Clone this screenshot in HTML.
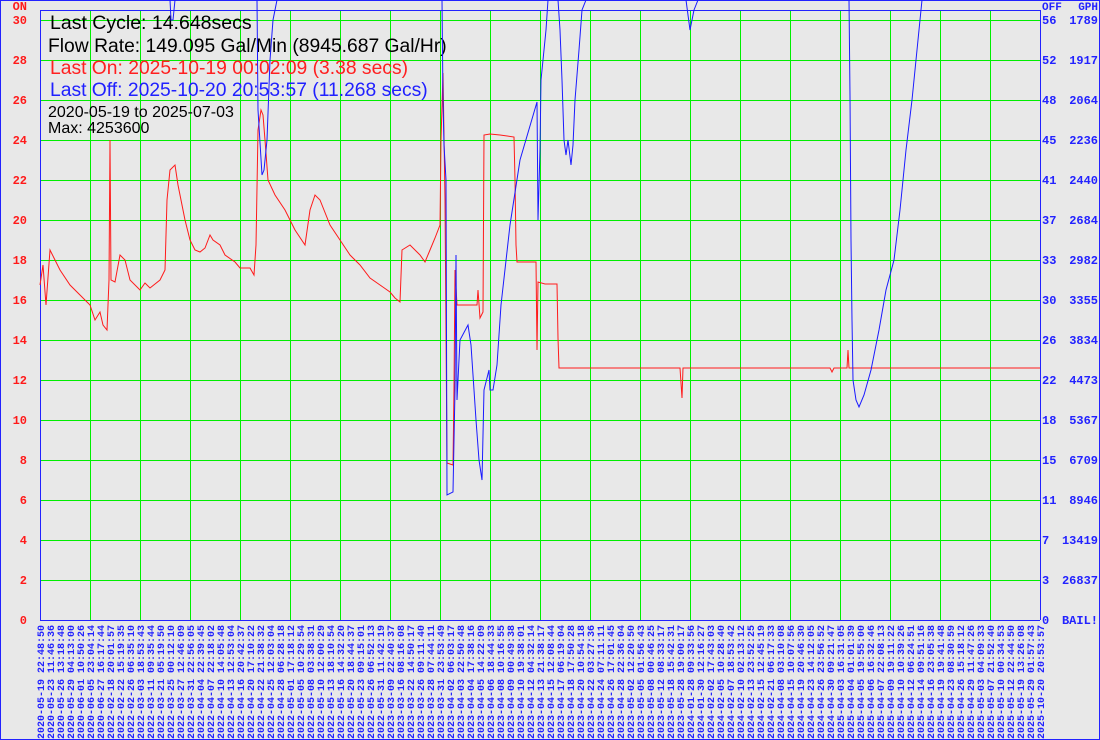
<!DOCTYPE html>
<html><head><meta charset="utf-8"><style>
html,body{margin:0;padding:0;background:#e8e8e8;}
svg{display:block;}
.ax{font-family:"Liberation Mono","DejaVu Sans Mono",monospace;font-weight:bold;font-size:12px;}
.xl{font-family:"Liberation Mono","DejaVu Sans Mono",monospace;font-size:10px;font-weight:bold;fill:#2222ff;}
.info{font-family:"Liberation Sans",sans-serif;}
</style></head><body>
<svg width="1100" height="740" xmlns="http://www.w3.org/2000/svg">
<rect x="0" y="0" width="1100" height="740" fill="#e8e8e8"/>
<rect x="0.5" y="0.5" width="1099" height="739" fill="none" stroke="#2222ff" stroke-width="1"/>
<g stroke="#00ee00" stroke-width="1" shape-rendering="crispEdges">
<path d="M40 20.5H1040M40 60.5H1040M40 100.5H1040M40 140.5H1040M40 180.5H1040M40 220.5H1040M40 260.5H1040M40 300.5H1040M40 340.5H1040M40 380.5H1040M40 420.5H1040M40 460.5H1040M40 500.5H1040M40 540.5H1040M40 580.5H1040"/>
<path d="M90.5 10V620M140.5 10V620M190.5 10V620M240.5 10V620M290.5 10V620M340.5 10V620M390.5 10V620M440.5 10V620M490.5 10V620M540.5 10V620M590.5 10V620M640.5 10V620M690.5 10V620M740.5 10V620M790.5 10V620M840.5 10V620M890.5 10V620M940.5 10V620M990.5 10V620"/>
</g>
<g stroke="#2222ff" stroke-width="1" fill="none" shape-rendering="crispEdges">
<path d="M40 10.5H1040M40.5 10V620.5H1040M1040.5 10V620"/>
</g>
<g class="info">
<text x="50" y="29" font-size="19.5" fill="#000">Last Cycle: 14.648secs</text>
<text x="48" y="52" font-size="19.3" fill="#000">Flow Rate: 149.095 Gal/Min (8945.687 Gal/Hr)</text>
<text x="50" y="74" font-size="19.3" fill="#ff2020">Last On: 2025-10-19 00:02:09 (3.38 secs)</text>
<text x="50" y="96" font-size="19.3" fill="#2020ff">Last Off: 2025-10-20 20:53:57 (11.268 secs)</text>
<text x="48" y="117" font-size="16" fill="#000">2020-05-19 to 2025-07-03</text>
<text x="48" y="133" font-size="16" fill="#000">Max: 4253600</text>
</g>
<polyline fill="none" stroke="#ff1a1a" stroke-width="1" points="40,285 43,265 46,305 50,250 55,260 60,270 70,285 80,295 90,305 95,320 100,312 103,325 107,330 109,280 110,140 111,280 115,282 120,255 125,260 130,280 140,290 145,283 150,288 160,280 165,270 167,200 170,170 175,165 178,185 185,220 190,240 195,250 200,252 205,248 210,235 213,240 220,245 225,255 235,262 240,268 250,268 254,275 256,245 258,130 261,110 263,115 265,140 268,180 275,195 285,210 295,230 305,245 310,210 315,195 320,200 330,225 340,240 350,255 360,265 370,278 380,285 390,292 395,298 400,302 402,250 410,245 420,255 425,262 430,250 435,238 440,225 441,140 443,73 445,200 447,463 453,465 454,388 455,270 457,305 465,305 477,305 478,290 480,318 483,312 484,135 490,134 500,135 514,137 515,180 516,245 517,262 530,262 536,262 537,350 538,282 545,284 557,284 558,338 559,368 680,368 682,398 683,368 830,368 832,372 834,368 847,368 848,350 849,368 1040,368"/>
<polyline fill="none" stroke="#1a1aff" stroke-width="1" points="170,0 171,20 173,20 175,0"/>
<polyline fill="none" stroke="#1a1aff" stroke-width="1" points="257,0 258,110 262,175 264,170 267,140 270,60 273,20 277,0"/>
<polyline fill="none" stroke="#1a1aff" stroke-width="1" points="442,0 443,100 444,145 446,180 447,495 453,492 454,440 455,390 456,255 457,400 460,340 468,325 471,345 473,375 476,420 479,460 482,480 484,390 489,370 490,390 493,390 497,365 501,305 510,225 520,160 537,102 538,220 540,150 541,80 546,30 548,0"/>
<polyline fill="none" stroke="#1a1aff" stroke-width="1" points="558,0 560,30 562,80 564,140 566,155 568,140 571,165 573,145 575,100 579,50 582,10 586,0"/>
<polyline fill="none" stroke="#1a1aff" stroke-width="1" points="686,0 690,30 694,10 698,0"/>
<polyline fill="none" stroke="#1a1aff" stroke-width="1" points="849,0 850,96 851,240 852,320 853,380 856,400 859,407 864,395 871,370 879,330 886,290 894,260 900,210 906,150 912,100 918,40 922,0"/>
<g class="ax" fill="#ff1a1a" text-anchor="end">
<text x="27" y="10">ON</text>
<text x="27" y="24">30</text><text x="27" y="64">28</text><text x="27" y="104">26</text><text x="27" y="144">24</text><text x="27" y="184">22</text><text x="27" y="224">20</text><text x="27" y="264">18</text><text x="27" y="304">16</text><text x="27" y="344">14</text><text x="27" y="384">12</text><text x="27" y="424">10</text><text x="27" y="464">8</text><text x="27" y="504">6</text><text x="27" y="544">4</text><text x="27" y="584">2</text><text x="27" y="624">0</text>
</g>
<g class="ax" fill="#2222ff">
<text x="1042" y="10" font-size="11">OFF</text><text x="1098" y="10" text-anchor="end" font-size="11">GPH</text>
<text x="1042" y="24">56</text><text x="1042" y="64">52</text><text x="1042" y="104">48</text><text x="1042" y="144">45</text><text x="1042" y="184">41</text><text x="1042" y="224">37</text><text x="1042" y="264">33</text><text x="1042" y="304">30</text><text x="1042" y="344">26</text><text x="1042" y="384">22</text><text x="1042" y="424">18</text><text x="1042" y="464">15</text><text x="1042" y="504">11</text><text x="1042" y="544">7</text><text x="1042" y="584">3</text><text x="1042" y="624">0</text>
</g>
<g class="ax" fill="#2222ff" text-anchor="end">
<text x="1098" y="24">1789</text><text x="1098" y="64">1917</text><text x="1098" y="104">2064</text><text x="1098" y="144">2236</text><text x="1098" y="184">2440</text><text x="1098" y="224">2684</text><text x="1098" y="264">2982</text><text x="1098" y="304">3355</text><text x="1098" y="344">3834</text><text x="1098" y="384">4473</text><text x="1098" y="424">5367</text><text x="1098" y="464">6709</text><text x="1098" y="504">8946</text><text x="1098" y="544">13419</text><text x="1098" y="584">26837</text><text x="1098" y="624">BAIL!</text>
</g>
<g class="xl" text-anchor="end">
<text transform="translate(44,625) rotate(-90)">2020-05-19 22:48:50</text>
<text transform="translate(54,625) rotate(-90)">2020-05-23 11:46:36</text>
<text transform="translate(64,625) rotate(-90)">2020-05-26 13:18:48</text>
<text transform="translate(74,625) rotate(-90)">2020-05-29 04:13:00</text>
<text transform="translate(84,625) rotate(-90)">2020-06-01 10:50:26</text>
<text transform="translate(94,625) rotate(-90)">2020-06-05 23:04:14</text>
<text transform="translate(104,625) rotate(-90)">2020-06-27 16:17:44</text>
<text transform="translate(114,625) rotate(-90)">2022-02-18 20:01:57</text>
<text transform="translate(124,625) rotate(-90)">2022-02-22 15:19:35</text>
<text transform="translate(134,625) rotate(-90)">2022-02-26 06:35:10</text>
<text transform="translate(144,625) rotate(-90)">2022-03-03 18:53:43</text>
<text transform="translate(154,625) rotate(-90)">2022-03-11 09:35:44</text>
<text transform="translate(164,625) rotate(-90)">2022-03-21 05:19:50</text>
<text transform="translate(174,625) rotate(-90)">2022-03-25 00:12:10</text>
<text transform="translate(184,625) rotate(-90)">2022-03-27 12:46:09</text>
<text transform="translate(194,625) rotate(-90)">2022-03-31 22:56:05</text>
<text transform="translate(204,625) rotate(-90)">2022-04-04 22:39:45</text>
<text transform="translate(214,625) rotate(-90)">2022-04-07 22:18:02</text>
<text transform="translate(224,625) rotate(-90)">2022-04-10 14:05:48</text>
<text transform="translate(234,625) rotate(-90)">2022-04-13 12:53:04</text>
<text transform="translate(244,625) rotate(-90)">2022-04-16 20:42:37</text>
<text transform="translate(254,625) rotate(-90)">2022-04-20 17:10:22</text>
<text transform="translate(264,625) rotate(-90)">2022-04-22 21:38:32</text>
<text transform="translate(274,625) rotate(-90)">2022-04-25 12:03:04</text>
<text transform="translate(284,625) rotate(-90)">2022-04-28 06:28:18</text>
<text transform="translate(294,625) rotate(-90)">2022-05-01 17:18:12</text>
<text transform="translate(304,625) rotate(-90)">2022-05-05 10:29:54</text>
<text transform="translate(314,625) rotate(-90)">2022-05-08 03:38:31</text>
<text transform="translate(324,625) rotate(-90)">2022-05-10 12:00:29</text>
<text transform="translate(334,625) rotate(-90)">2022-05-13 18:10:54</text>
<text transform="translate(344,625) rotate(-90)">2022-05-16 14:32:20</text>
<text transform="translate(354,625) rotate(-90)">2022-05-20 18:44:37</text>
<text transform="translate(364,625) rotate(-90)">2022-05-23 09:15:01</text>
<text transform="translate(374,625) rotate(-90)">2022-05-26 06:52:13</text>
<text transform="translate(384,625) rotate(-90)">2022-05-31 11:42:19</text>
<text transform="translate(394,625) rotate(-90)">2023-03-09 22:40:37</text>
<text transform="translate(404,625) rotate(-90)">2023-03-16 08:16:08</text>
<text transform="translate(414,625) rotate(-90)">2023-03-22 14:50:17</text>
<text transform="translate(424,625) rotate(-90)">2023-03-26 09:11:40</text>
<text transform="translate(434,625) rotate(-90)">2023-03-28 07:44:11</text>
<text transform="translate(444,625) rotate(-90)">2023-03-31 23:53:49</text>
<text transform="translate(454,625) rotate(-90)">2023-04-02 06:03:17</text>
<text transform="translate(464,625) rotate(-90)">2023-04-03 22:50:48</text>
<text transform="translate(474,625) rotate(-90)">2023-04-04 17:38:16</text>
<text transform="translate(484,625) rotate(-90)">2023-04-05 14:22:09</text>
<text transform="translate(494,625) rotate(-90)">2023-04-06 18:44:33</text>
<text transform="translate(504,625) rotate(-90)">2023-04-08 10:16:55</text>
<text transform="translate(514,625) rotate(-90)">2023-04-09 00:49:38</text>
<text transform="translate(524,625) rotate(-90)">2023-04-10 19:38:01</text>
<text transform="translate(534,625) rotate(-90)">2023-04-12 04:32:14</text>
<text transform="translate(544,625) rotate(-90)">2023-04-13 21:38:17</text>
<text transform="translate(554,625) rotate(-90)">2023-04-15 12:08:44</text>
<text transform="translate(564,625) rotate(-90)">2023-04-17 06:19:04</text>
<text transform="translate(574,625) rotate(-90)">2023-04-18 17:50:28</text>
<text transform="translate(584,625) rotate(-90)">2023-04-20 10:54:18</text>
<text transform="translate(594,625) rotate(-90)">2023-04-22 03:27:36</text>
<text transform="translate(604,625) rotate(-90)">2023-04-24 07:11:11</text>
<text transform="translate(614,625) rotate(-90)">2023-04-26 17:01:45</text>
<text transform="translate(624,625) rotate(-90)">2023-04-28 22:36:04</text>
<text transform="translate(634,625) rotate(-90)">2023-05-02 12:20:50</text>
<text transform="translate(644,625) rotate(-90)">2023-05-05 01:56:43</text>
<text transform="translate(654,625) rotate(-90)">2023-05-08 00:46:25</text>
<text transform="translate(664,625) rotate(-90)">2023-05-12 08:33:17</text>
<text transform="translate(674,625) rotate(-90)">2023-05-18 15:42:31</text>
<text transform="translate(684,625) rotate(-90)">2023-05-28 19:00:17</text>
<text transform="translate(694,625) rotate(-90)">2024-01-28 09:33:56</text>
<text transform="translate(704,625) rotate(-90)">2024-01-30 12:16:27</text>
<text transform="translate(714,625) rotate(-90)">2024-02-02 17:43:03</text>
<text transform="translate(724,625) rotate(-90)">2024-02-05 10:28:40</text>
<text transform="translate(734,625) rotate(-90)">2024-02-07 18:53:42</text>
<text transform="translate(744,625) rotate(-90)">2024-02-10 02:13:12</text>
<text transform="translate(754,625) rotate(-90)">2024-02-13 23:52:25</text>
<text transform="translate(764,625) rotate(-90)">2024-02-15 12:45:19</text>
<text transform="translate(774,625) rotate(-90)">2024-02-21 06:17:33</text>
<text transform="translate(784,625) rotate(-90)">2024-04-08 03:10:08</text>
<text transform="translate(794,625) rotate(-90)">2024-04-15 10:07:56</text>
<text transform="translate(804,625) rotate(-90)">2024-04-19 20:46:30</text>
<text transform="translate(814,625) rotate(-90)">2024-04-23 14:12:05</text>
<text transform="translate(824,625) rotate(-90)">2024-04-26 23:56:52</text>
<text transform="translate(834,625) rotate(-90)">2024-04-30 09:21:47</text>
<text transform="translate(844,625) rotate(-90)">2025-04-03 16:31:05</text>
<text transform="translate(854,625) rotate(-90)">2025-04-04 01:01:39</text>
<text transform="translate(864,625) rotate(-90)">2025-04-05 19:55:00</text>
<text transform="translate(874,625) rotate(-90)">2025-04-06 16:32:46</text>
<text transform="translate(884,625) rotate(-90)">2025-04-07 22:08:13</text>
<text transform="translate(894,625) rotate(-90)">2025-04-09 19:11:22</text>
<text transform="translate(904,625) rotate(-90)">2025-04-10 10:39:26</text>
<text transform="translate(914,625) rotate(-90)">2025-04-12 06:24:51</text>
<text transform="translate(924,625) rotate(-90)">2025-04-14 09:51:16</text>
<text transform="translate(934,625) rotate(-90)">2025-04-16 23:05:38</text>
<text transform="translate(944,625) rotate(-90)">2025-04-19 19:41:48</text>
<text transform="translate(954,625) rotate(-90)">2025-04-23 08:30:59</text>
<text transform="translate(964,625) rotate(-90)">2025-04-26 15:18:12</text>
<text transform="translate(974,625) rotate(-90)">2025-04-29 11:47:26</text>
<text transform="translate(984,625) rotate(-90)">2025-05-03 04:09:33</text>
<text transform="translate(994,625) rotate(-90)">2025-05-07 21:52:40</text>
<text transform="translate(1004,625) rotate(-90)">2025-05-10 00:34:53</text>
<text transform="translate(1014,625) rotate(-90)">2025-05-12 22:44:50</text>
<text transform="translate(1024,625) rotate(-90)">2025-05-19 13:26:08</text>
<text transform="translate(1034,625) rotate(-90)">2025-05-29 01:57:43</text>
<text transform="translate(1044,625) rotate(-90)">2025-10-20 20:53:57</text>
</g>
</svg>
</body></html>
